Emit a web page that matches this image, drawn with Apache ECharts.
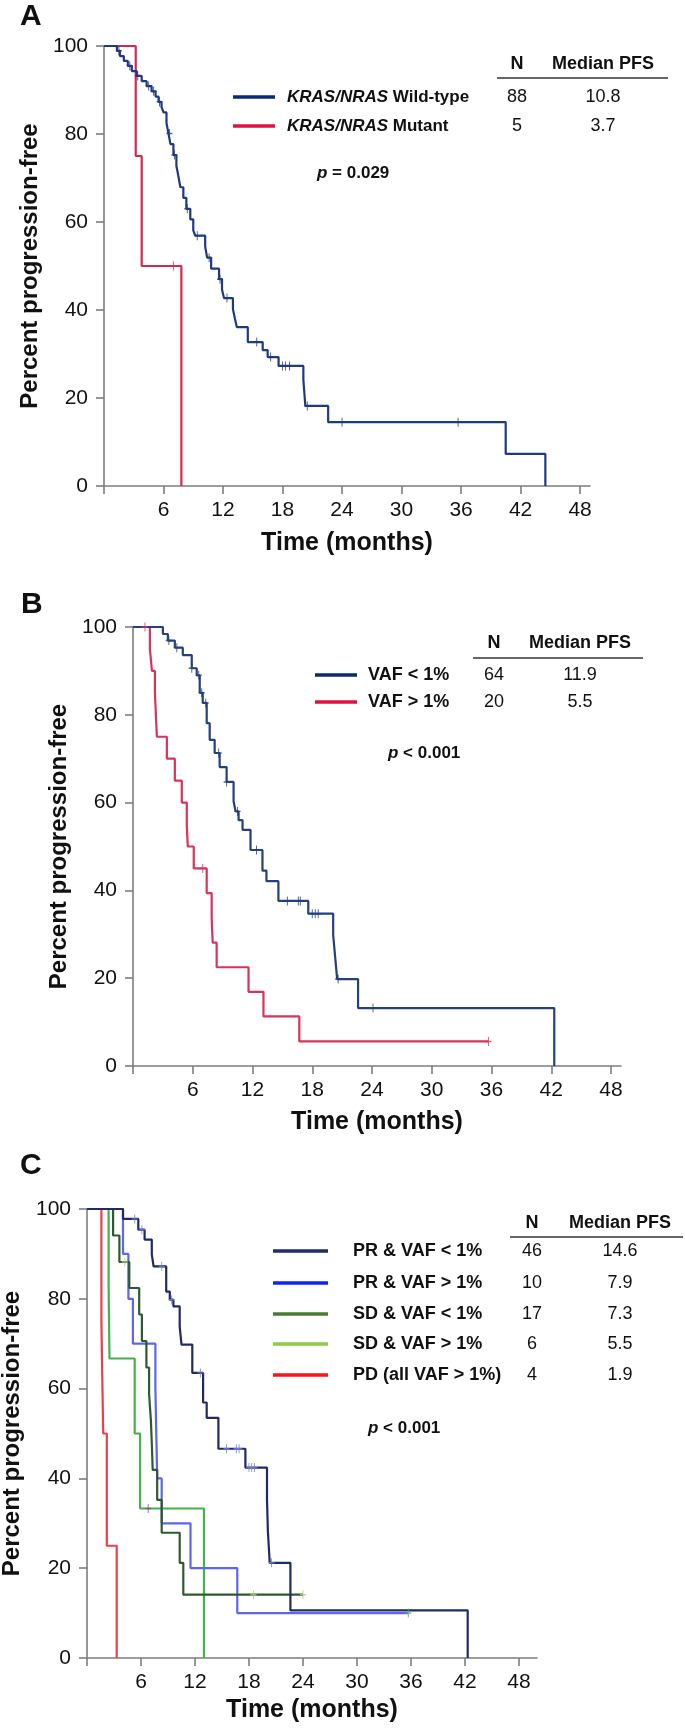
<!DOCTYPE html>
<html><head><meta charset="utf-8">
<script src="https://cdn.jsdelivr.net/npm/echarts@6/dist/echarts.min.js"></script>
<style>html,body{margin:0;padding:0;background:#fff}#c{width:685px;height:1729px}</style>
</head><body><div id="c"></div>
<script>
// ---------- tick labels ----------
const xTicks = [6, 12, 18, 24, 30, 36, 42, 48];
const xTickMarks = [0, 6, 12, 18, 24, 30, 36, 42, 48];
const yTicks = [0, 20, 40, 60, 80, 100];

// ---------- Panel A ----------
const aWtTime = [0, 1.3, 1.6, 2.0, 2.4, 2.8, 3.3, 3.8, 4.3, 4.8, 5.2, 5.5, 5.8, 6.0, 6.3, 6.5, 6.7, 7.0, 7.3, 7.5, 7.7, 8.0, 8.3, 8.7, 9.0, 9.2, 10.2, 10.4, 10.8, 11.6, 11.9, 12.1, 13.0, 13.2, 13.4, 14.5, 16.0, 16.5, 17.6, 20.1, 20.2, 20.3, 22.6, 40.5, 44.5];
const aWtSurv = [100, 98.9, 97.7, 96.6, 95.5, 94.3, 93.2, 92.0, 90.9, 89.7, 88.5, 87.3, 86.1, 84.9, 82.5, 80.1, 77.7, 75.2, 72.8, 70.4, 67.9, 65.5, 63.0, 60.6, 58.1, 56.9, 54.4, 51.9, 49.4, 47.0, 44.6, 42.7, 40.2, 38.0, 36.1, 32.7, 30.9, 29.3, 27.3, 24.1, 21.2, 18.2, 14.5, 7.3, 0];
const aWtCensor = [1.5, 2.6, 3.4, 4.5, 5.0, 5.6, 6.6, 7.1, 8.4, 9.4, 10.6, 11.7, 12.4, 15.4, 16.8, 18.0, 18.3, 18.7, 20.5, 24.0, 35.7];
const aMuTime = [0, 3.2, 3.8, 7.8];
const aMuSurv = [100, 75, 50, 0];
const aMuCensor = [7.0];
const aGene = ['KRAS/NRAS', 'KRAS/NRAS'];
const aGroup = ['Wild-type', 'Mutant'];
const aN = [88, 5];
const aMedian = ['10.8', '3.7'];
const aP = 'p = 0.029';

// ---------- Panel B ----------
const bLoTime = [0, 3.0, 3.5, 4.2, 5.0, 5.9, 6.4, 6.7, 7.0, 7.4, 7.7, 8.2, 8.7, 9.4, 10.1, 10.3, 10.6, 11.0, 11.8, 13.0, 13.4, 14.6, 17.6, 20.1, 20.3, 20.5, 22.6, 42.3];
const bLoSurv = [100, 98.4, 96.9, 95.3, 93.6, 90.6, 89.0, 85.0, 82.7, 78.1, 74.3, 71.3, 68.1, 64.7, 60.3, 58.0, 56.0, 53.8, 49.2, 44.5, 42.1, 37.6, 34.7, 29.8, 24.8, 19.8, 13.2, 0];
const bLoCensor = [3.6, 4.4, 5.9, 6.6, 6.9, 7.3, 8.6, 9.4, 10.5, 12.4, 15.5, 16.6, 16.8, 18.0, 18.3, 18.6, 20.6, 24.1];
const bHiTime = [0, 1.7, 1.9, 2.2, 2.3, 2.4, 3.4, 4.2, 4.9, 5.4, 5.5, 6.1, 7.4, 7.9, 8.0, 8.4, 11.6, 13.1, 16.7, 35.7];
const bHiSurv = [100, 95, 90, 85, 80, 75, 70, 65, 60, 55, 50, 45, 39.4, 33.8, 28.1, 22.5, 16.9, 11.3, 5.6, 5.6];
const bHiCensor = [1.2, 7.0, 35.7];
const bGroup = ['VAF < 1%', 'VAF > 1%'];
const bN = [64, 20];
const bMedian = ['11.9', '5.5'];
const bP = 'p < 0.001';

// ---------- Panel C ----------
const cPrLoTime = [0, 4.0, 5.7, 6.4, 7.2, 7.4, 8.8, 9.2, 9.6, 10.3, 10.5, 11.7, 12.9, 13.3, 14.6, 17.6, 20.0, 20.1, 20.3, 22.6, 42.3];
const cPrLoSurv = [100, 97.8, 95.4, 93.2, 89.9, 87.2, 81.6, 79.8, 78.3, 73.8, 69.8, 63.5, 56.9, 53.5, 46.6, 42.4, 35.3, 28.2, 21.2, 10.6, 0];
const cPrLoCensor = [5.3, 6.1, 8.3, 9.4, 12.6, 15.5, 16.6, 16.9, 18.0, 18.3, 18.6, 20.5];
const cPrHiTime = [0, 4.0, 4.6, 5.1, 7.6, 7.7, 7.8, 8.3, 11.5, 16.7, 35.7];
const cPrHiSurv = [100, 90, 80, 70, 60, 50, 40, 30, 20, 10, 10];
const cPrHiCensor = [35.7];
const cSdLoTime = [0, 2.9, 3.6, 4.7, 5.8, 6.1, 6.6, 6.9, 7.1, 7.2, 7.3, 7.8, 8.3, 10.3, 10.7, 24.0];
const cSdLoSurv = [100, 94.1, 88.2, 82.4, 76.5, 70.6, 64.7, 58.8, 52.9, 47.9, 41.9, 35.2, 27.9, 21.2, 14.1, 14.1];
const cSdLoCensor = [4.2, 18.5, 24.0];
const cSdHiTime = [0, 2.4, 2.5, 5.3, 5.9, 13.0];
const cSdHiSurv = [100, 83.3, 66.7, 50, 33.3, 0];
const cSdHiCensor = [6.8];
const cPdTime = [0, 1.6, 1.8, 2.2, 3.3];
const cPdSurv = [100, 75, 50, 25, 0];
const cGroup = ['PR & VAF < 1%', 'PR & VAF > 1%', 'SD & VAF < 1%', 'SD & VAF > 1%', 'PD (all VAF > 1%)'];
const cN = [46, 10, 17, 6, 4];
const cMedian = ['14.6', '7.9', '7.3', '5.5', '1.9'];
const cP = 'p < 0.001';

// ---------- helpers ----------
const FONT = '"Liberation Sans", Arial, Helvetica, sans-serif';
const AXIS_C = '#7d7d7d';
const TXT = '#111';
function pts(T, S) { return T.map((t, i) => [t, S[i]]); }
function survAt(T, S, t) { let v = S[0]; for (let i = 0; i < T.length; i++) { if (T[i] <= t) v = S[i]; } return v; }
function cens(T, S, C) { return C.map(t => [t, survAt(T, S, t)]); }

const PLUS = 'path://M5,0L5,10M0,5L10,5';
function kmLine(gi, T, S, color, width) {
  return { type: 'line', xAxisIndex: gi, yAxisIndex: gi, data: pts(T, S), step: 'end', symbol: 'none',
    lineStyle: { color: color, width: width || 2.2 }, silent: true, z: 3 };
}
function kmCens(gi, T, S, C, color) {
  return { type: 'scatter', xAxisIndex: gi, yAxisIndex: gi, data: cens(T, S, C), symbol: PLUS, symbolSize: [6, 9],
    itemStyle: { color: 'none', borderColor: color, borderWidth: 1.2 }, silent: true, z: 4 };
}
function xAx(gi, max, gap) {
  return { gridIndex: gi, type: 'value', min: 0, max: max, interval: 6,
    axisLine: { show: true, onZero: false, lineStyle: { color: AXIS_C, width: 1.6 } },
    axisTick: { show: true, length: 8, customValues: xTickMarks, lineStyle: { color: AXIS_C, width: 1.6 } },
    axisLabel: { customValues: xTicks, margin: 14, fontSize: 21, color: TXT, fontFamily: FONT },
    splitLine: { show: false },
    name: 'Time (months)', nameLocation: 'middle', nameGap: gap,
    nameTextStyle: { fontSize: 25, fontWeight: 'bold', color: TXT, fontFamily: FONT } };
}
function yAx(gi, gap) {
  return { gridIndex: gi, type: 'value', min: 0, max: 100, interval: 20,
    axisLine: { show: true, onZero: false, lineStyle: { color: AXIS_C, width: 1.6 } },
    axisTick: { show: true, length: 8, customValues: yTicks, lineStyle: { color: AXIS_C, width: 1.6 } },
    axisLabel: { customValues: yTicks, margin: 16, fontSize: 21, color: TXT, fontFamily: FONT },
    splitLine: { show: false },
    name: 'Percent progression-free', nameLocation: 'middle', nameRotate: 90, nameGap: gap,
    nameTextStyle: { fontSize: 24, fontWeight: 'bold', color: TXT, fontFamily: FONT } };
}
function txt(x, y, s, size, bold, align, extra) {
  return { type: 'text', silent: true, style: Object.assign({ x: x, y: y, text: s, fill: TXT,
    font: (bold ? 'bold ' : '') + size + 'px ' + FONT, textAlign: align || 'left', textVerticalAlign: 'middle' }, extra || {}) };
}
function seg(x1, y1, x2, y2, color, w) {
  return { type: 'line', silent: true, shape: { x1: x1, y1: y1, x2: x2, y2: y2 }, style: { stroke: color, lineWidth: w } };
}
function pText(x, y, s) {
  const parts = s.split(' ');
  return { type: 'text', silent: true, style: { x: x, y: y, text: '{i|' + parts[0] + '} ' + parts.slice(1).join(' '),
    fill: TXT, font: 'bold 17px ' + FONT, textVerticalAlign: 'middle',
    rich: { i: { fontStyle: 'italic', fontWeight: 'bold', fontSize: 17, fontFamily: FONT, fill: TXT } } } };
}
function table(cfg) {
  const g = [];
  g.push(txt(cfg.nX, cfg.headY, 'N', 18, true, 'center'));
  g.push(txt(cfg.mX, cfg.headY, 'Median PFS', 18, true, 'center'));
  g.push(seg(cfg.ruleX1, cfg.ruleY, cfg.ruleX2, cfg.ruleY, '#666', 2));
  cfg.rows.forEach((y, i) => {
    g.push(seg(cfg.lx1, y, cfg.lx2, y, cfg.colors[i], 3.5));
    g.push(cfg.label(i, y));
    g.push(txt(cfg.nX, y, String(cfg.N[i]), 18, false, 'center'));
    g.push(txt(cfg.mX, y, cfg.med[i], 18, false, 'center'));
  });
  return g;
}

const aCol = ['#1f3a80', '#d42a50'];
const aLeg = ['#0b2872', '#e2103e'];
const bCol = ['#24407e', '#d8335a'];
const bLeg = ['#0b2872', '#e2103e'];
const cCol = ['#222a64', '#5d66ee', '#2f5a31', '#42b348', '#e8414d'];
const cLeg = ['#1e2d6b', '#1020ff', '#4b7a34', '#8ccc44', '#ff1212'];

const graphic = [];
graphic.push(txt(20, 17, 'A', 30, true));
graphic.push(txt(21, 605, 'B', 30, true));
graphic.push(txt(20, 1166, 'C', 30, true));
table({ nX: 517, mX: 603, headY: 64, ruleX1: 497, ruleX2: 668, ruleY: 78, rows: [97, 126], lx1: 233, lx2: 275,
  colors: aLeg, N: aN, med: aMedian,
  label: (i, y) => ({ type: 'text', silent: true, style: { x: 287, y: y, text: '{i|' + aGene[i] + '} ' + aGroup[i],
    fill: TXT, font: 'bold 17px ' + FONT, textVerticalAlign: 'middle',
    rich: { i: { fontStyle: 'italic', fontWeight: 'bold', fontSize: 17, fontFamily: FONT, fill: TXT } } } }) })
  .forEach(e => graphic.push(e));
graphic.push(pText(317, 173, aP));
table({ nX: 494, mX: 580, headY: 643, ruleX1: 473, ruleX2: 643, ruleY: 658, rows: [675, 702], lx1: 315, lx2: 357,
  colors: bLeg, N: bN, med: bMedian, label: (i, y) => txt(368, y, bGroup[i], 18, true) }).forEach(e => graphic.push(e));
graphic.push(pText(388, 753, bP));
table({ nX: 532, mX: 620, headY: 1223, ruleX1: 510, ruleX2: 683, ruleY: 1237, rows: [1251, 1283, 1314, 1344, 1375], lx1: 273, lx2: 328,
  colors: cLeg, N: cN, med: cMedian, label: (i, y) => txt(353, y, cGroup[i], 18, true) }).forEach(e => graphic.push(e));
graphic.push(pText(368, 1428, cP));

const option = {
  animation: false,
  backgroundColor: '#fff',
  grid: [
    { left: 104, top: 46, width: 486, height: 440, containLabel: false, outerBoundsMode: 'none' },
    { left: 133, top: 627, width: 488, height: 439, containLabel: false, outerBoundsMode: 'none' },
    { left: 87, top: 1209, width: 450, height: 449, containLabel: false, outerBoundsMode: 'none' }
  ],
  xAxis: [xAx(0, 49, 45), xAx(1, 49, 44), xAx(2, 50, 40)],
  yAxis: [yAx(0, 58), yAx(1, 62), yAx(2, 63)],
  series: [
    kmLine(0, aMuTime, aMuSurv, aCol[1]), kmCens(0, aMuTime, aMuSurv, aMuCensor, aCol[1]),
    kmLine(0, aWtTime, aWtSurv, aCol[0]), kmCens(0, aWtTime, aWtSurv, aWtCensor, aCol[0]),
    kmLine(1, bHiTime, bHiSurv, bCol[1]), kmCens(1, bHiTime, bHiSurv, bHiCensor, bCol[1]),
    kmLine(1, bLoTime, bLoSurv, bCol[0]), kmCens(1, bLoTime, bLoSurv, bLoCensor, bCol[0]),
    kmLine(2, cPdTime, cPdSurv, cCol[4]),
    kmLine(2, cSdHiTime, cSdHiSurv, cCol[3]), kmCens(2, cSdHiTime, cSdHiSurv, cSdHiCensor, '#8a4a8a'),
    kmLine(2, cPrHiTime, cPrHiSurv, cCol[1]), kmCens(2, cPrHiTime, cPrHiSurv, cPrHiCensor, '#44bb44'),
    kmLine(2, cSdLoTime, cSdLoSurv, cCol[2]), kmCens(2, cSdLoTime, cSdLoSurv, cSdLoCensor, '#b6cc66'),
    kmLine(2, cPrLoTime, cPrLoSurv, cCol[0]), kmCens(2, cPrLoTime, cPrLoSurv, cPrLoCensor, '#7080d0')
  ],
  graphic: graphic
};
const chart = echarts.init(document.getElementById('c'), null, { renderer: 'canvas' });
chart.setOption(option);
</script></body></html>
